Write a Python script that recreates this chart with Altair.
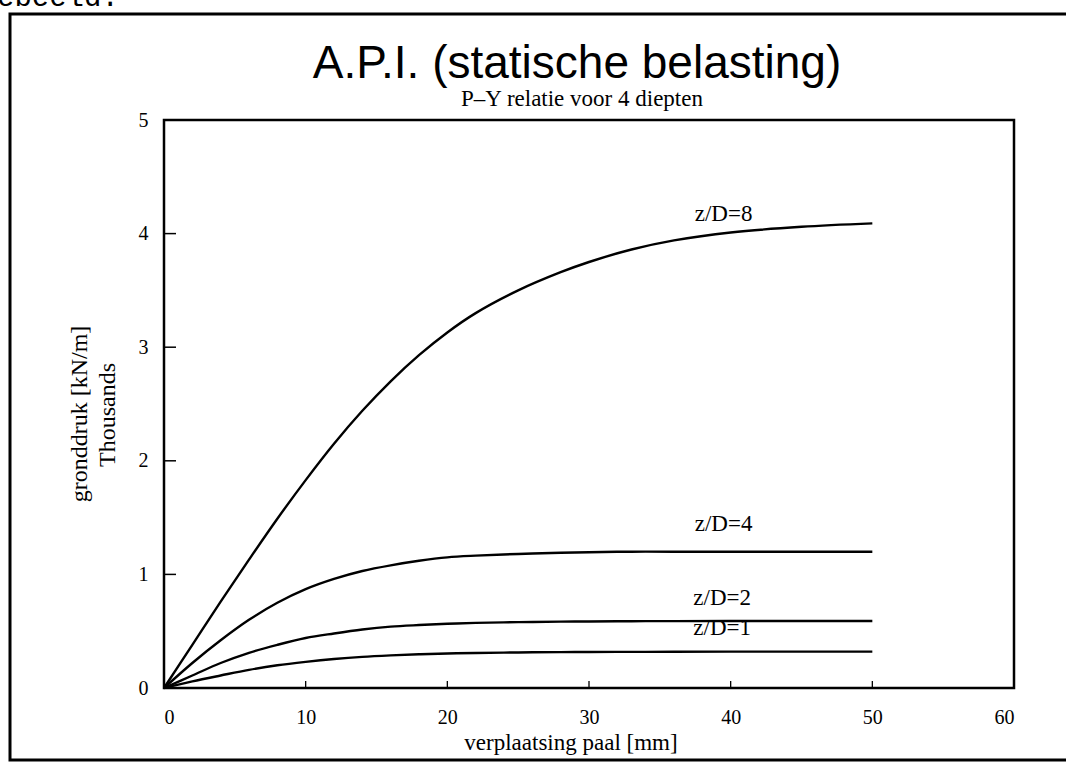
import altair as alt
import pandas as pd

# displacement (mm)
xs = [0, 2, 4, 6, 8, 10, 12, 14, 16, 18, 20, 22, 25, 28, 30, 33, 36, 40, 45, 50]
# soil pressure (thousands kN/m) for each depth ratio
p_zd8 = [0, 0.38, 0.76, 1.13, 1.49, 1.83, 2.15, 2.44, 2.70, 2.93, 3.13, 3.30, 3.50, 3.66, 3.75, 3.86, 3.94, 4.01, 4.06, 4.09]
p_zd4 = [0, 0.22, 0.42, 0.60, 0.75, 0.87, 0.96, 1.03, 1.08, 1.12, 1.15, 1.165, 1.18, 1.19, 1.195, 1.20, 1.20, 1.20, 1.20, 1.20]
p_zd2 = [0, 0.11, 0.22, 0.31, 0.38, 0.44, 0.48, 0.515, 0.54, 0.554, 0.565, 0.573, 0.58, 0.584, 0.586, 0.588, 0.589, 0.59, 0.59, 0.59]
p_zd1 = [0, 0.058, 0.11, 0.16, 0.20, 0.23, 0.255, 0.274, 0.287, 0.297, 0.304, 0.308, 0.313, 0.316, 0.317, 0.318, 0.319, 0.32, 0.32, 0.32]

series_names = ["z/D=8", "z/D=4", "z/D=2", "z/D=1"]
series_values = [p_zd8, p_zd4, p_zd2, p_zd1]

# curve label anchor points (data coords)
label_text = ["z/D=8", "z/D=4", "z/D=2", "z/D=1"]
label_x = [39.5, 39.5, 39.4, 39.4]
label_y = [4.17, 1.44, 0.79, 0.53]

x_ticks = [0, 10, 20, 30, 40, 50, 60]
y_ticks = [0, 1, 2, 3, 4, 5]

rows = []
for name, vals in zip(series_names, series_values):
    for xv, yv in zip(xs, vals):
        rows.append({"serie": name, "x": xv, "p": yv})
df = pd.DataFrame(rows)
df_lab = pd.DataFrame({"t": label_text, "x": label_x, "y": label_y})
df_xt = pd.DataFrame({"x": x_ticks})
df_yt = pd.DataFrame({"y": y_ticks})

W, H = 850, 568
L, T = 164, 120

xsc = alt.Scale(domain=[0, 60], nice=False, zero=False)
ysc = alt.Scale(domain=[0, 5], nice=False, zero=False)

lines = alt.Chart(df).mark_line(color="black", strokeWidth=2.4, interpolate="catmull-rom").encode(
    x=alt.X("x:Q", scale=xsc,
            axis=alt.Axis(values=x_ticks, title=None, domain=False, grid=False, format="d",
                          ticks=False, labelFont="Liberation Serif", labelFontSize=20,
                          labelColor="black", labelPadding=19)),
    y=alt.Y("p:Q", scale=ysc,
            axis=alt.Axis(values=y_ticks, title=None, domain=False, grid=False, format="d",
                          ticks=False, labelFont="Liberation Serif", labelFontSize=20,
                          labelColor="black", labelPadding=16)),
    detail="serie:N",
)

# inward tick marks
yticks = alt.Chart(df_yt).mark_rule(color="black", strokeWidth=1.5).encode(
    y=alt.Y("y:Q", scale=ysc), x=alt.value(0), x2=alt.value(12))
xticks = alt.Chart(df_xt).mark_rule(color="black", strokeWidth=1.3).encode(
    x=alt.X("x:Q", scale=xsc), y=alt.value(H), y2=alt.value(H - 7))

labels = alt.Chart(df_lab).mark_text(
    font="Liberation Serif", fontSize=23, color="black", align="center", baseline="middle"
).encode(x=alt.X("x:Q", scale=xsc), y=alt.Y("y:Q", scale=ysc), text="t:N")

def txt(s, x, y, **kw):
    return alt.Chart(pd.DataFrame({"t": [s]})).mark_text(color="black", **kw).encode(
        x=alt.value(x), y=alt.value(y), text="t:N")

title = txt("A.P.I. (statische belasting)", 577 - L, 78 - T,
            font="Liberation Sans", fontSize=46, align="center", baseline="alphabetic")
subtitle = txt("P\u2013Y relatie voor 4 diepten", 582 - L, 106 - T,
               font="Liberation Serif", fontSize=23, align="center", baseline="alphabetic")
xtitle = txt("verplaatsing paal [mm]", 571 - L, 743 - T,
             font="Liberation Serif", fontSize=23, align="center", baseline="middle")
ytitle1 = txt("gronddruk [kN/m]", 80 - L, 414 - T,
              font="Liberation Serif", fontSize=24, align="center", baseline="middle", angle=270)
ytitle2 = txt("Thousands", 108 - L, 415 - T,
              font="Liberation Serif", fontSize=24, align="center", baseline="middle", angle=270)
corner = txt("ebeeld.", -3 - L, 6 - T,
             font="Liberation Mono", fontSize=29, align="left", baseline="alphabetic")

frame = alt.Chart(pd.DataFrame({"a": [0]})).mark_rect(
    fill="white", fillOpacity=0, stroke="black", strokeWidth=3
).encode(x=alt.value(10 - L), x2=alt.value(1080 - L), y=alt.value(14 - T), y2=alt.value(760 - T))

chart = alt.layer(frame, yticks, xticks, lines, labels, title, subtitle, xtitle,
                  ytitle1, ytitle2, corner).properties(
    width=W, height=H,
    padding={"left": L, "top": T, "right": 1066 - L - W, "bottom": 765 - T - H},
    autosize=alt.AutoSizeParams(type="none"),
    background="white",
).configure_view(stroke="black", strokeWidth=2.5)

chart.save("out.html", embed_options={"renderer": "svg", "actions": False})
